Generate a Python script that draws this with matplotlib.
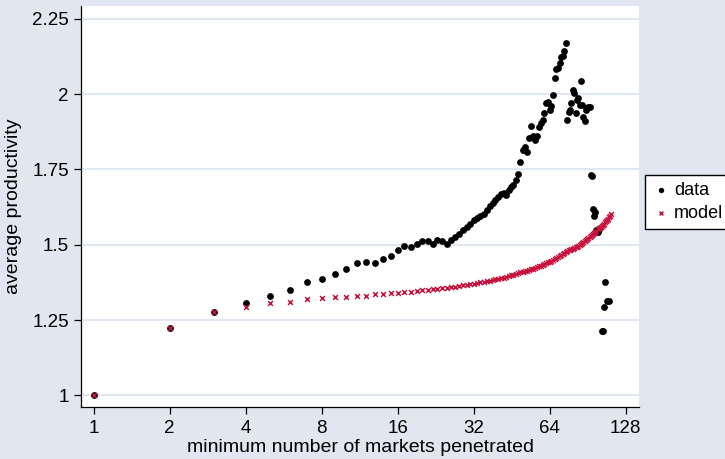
import numpy as np
import matplotlib
matplotlib.use("Agg")
import matplotlib.pyplot as plt

plt.rcParams['font.family'] = ['Liberation Sans', 'DejaVu Sans']

# observed average productivity by minimum number of markets penetrated
data_n = list(range(1, 101)) + [103, 104, 105, 106, 108, 110]
data_val = [1.000, 1.224, 1.276, 1.306, 1.331, 1.351, 1.375, 1.386, 1.403, 1.420,
            1.438, 1.444, 1.438, 1.452, 1.463, 1.483, 1.495, 1.494, 1.503, 1.514,
            1.514, 1.503, 1.515, 1.511, 1.503, 1.517, 1.526, 1.537, 1.548, 1.560,
            1.570, 1.582, 1.589, 1.595, 1.602, 1.614, 1.628, 1.638, 1.650, 1.660,
            1.670, 1.673, 1.665, 1.682, 1.692, 1.700, 1.715, 1.735, 1.776, 1.815,
            1.824, 1.809, 1.854, 1.896, 1.861, 1.848, 1.861, 1.892, 1.904, 1.915,
            1.939, 1.970, 1.975, 1.946, 1.960, 1.998, 2.053, 2.083, 2.086, 2.105,
            2.123, 2.127, 2.145, 2.169, 1.915, 1.942, 1.948, 1.970, 2.014, 2.005,
            1.939, 1.981, 1.987, 1.964, 2.045, 1.964, 1.923, 1.912, 1.948, 1.955,
            1.957, 1.957, 1.732, 1.730, 1.618, 1.596, 1.610, 1.549, 1.544, 1.553,
            1.214, 1.214, 1.294, 1.375, 1.313, 1.313]

# model prediction
model_n = list(range(1, 113))
model_val = [1.000, 1.224, 1.276, 1.294, 1.308, 1.311, 1.320, 1.323, 1.327, 1.328,
             1.331, 1.331, 1.335, 1.336, 1.339, 1.339, 1.342, 1.344, 1.347, 1.350,
             1.351, 1.352, 1.354, 1.355, 1.357, 1.359, 1.361, 1.363, 1.365, 1.367,
             1.369, 1.371, 1.373, 1.375, 1.377, 1.379, 1.381, 1.383, 1.385, 1.387,
             1.389, 1.391, 1.393, 1.395, 1.398, 1.400, 1.403, 1.405, 1.408, 1.410,
             1.412, 1.414, 1.416, 1.418, 1.420, 1.422, 1.425, 1.428, 1.431, 1.434,
             1.437, 1.440, 1.442, 1.444, 1.447, 1.450, 1.453, 1.456, 1.459, 1.462,
             1.466, 1.469, 1.472, 1.475, 1.478, 1.481, 1.483, 1.485, 1.487, 1.489,
             1.492, 1.494, 1.497, 1.500, 1.503, 1.506, 1.510, 1.513, 1.517, 1.520,
             1.524, 1.527, 1.530, 1.534, 1.537, 1.540, 1.543, 1.547, 1.551, 1.554,
             1.556, 1.559, 1.562, 1.566, 1.570, 1.574, 1.578, 1.583, 1.587, 1.592,
             1.596, 1.601]

x_ticks = [1, 2, 4, 8, 16, 32, 64, 128]
y_ticks = [1, 1.25, 1.5, 1.75, 2, 2.25]
y_tick_labels = ['1', '1.25', '1.5', '1.75', '2', '2.25']

bg = '#E1E6F0'
grid_c = '#DCE3EE'
red = '#C8103C'

fig = plt.figure(figsize=(7.25, 4.59), dpi=100, facecolor=bg)
ax = fig.add_axes([0.1121, 0.1126, 0.7693, 0.8743])
ax.set_facecolor('white')

ax.scatter(data_n, data_val, s=24, color='black', marker='o', linewidths=0, zorder=3, label='data')
ax.scatter(model_n, model_val, s=12, color=red, marker='x', linewidths=1.1, zorder=4, label='model')

ax.set_xscale('log', base=2)
ax.set_xlim(2 ** -0.163, 2 ** 7.175)
ax.set_ylim(0.960, 2.293)
ax.set_xticks(x_ticks)
ax.set_xticklabels([str(t) for t in x_ticks])
ax.minorticks_off()
ax.set_yticks(y_ticks)
ax.set_yticklabels(y_tick_labels)

ax.grid(True, axis='y', color=grid_c, linewidth=1.2, zorder=0)
ax.set_axisbelow(True)

for s in ['top', 'right']:
    ax.spines[s].set_visible(False)
for s in ['left', 'bottom']:
    ax.spines[s].set_linewidth(0.9)
    ax.spines[s].set_color('black')

ax.tick_params(axis='both', direction='out', length=5, width=0.9, labelsize=13.5, colors='black', pad=4)

ax.set_xlabel('minimum number of markets penetrated', fontsize=14, labelpad=1.5)
ax.set_ylabel('average productivity', fontsize=14)
ax.yaxis.set_label_coords(-0.106, 0.5)

leg = fig.legend(loc='upper left', bbox_to_anchor=(0.8897, 0.6187), fontsize=13,
                 frameon=True, fancybox=False, edgecolor='black', framealpha=1,
                 borderaxespad=0, handletextpad=0.2, handlelength=1.0,
                 borderpad=0.4, labelspacing=0.3, markerscale=0.8)
leg.get_frame().set_linewidth(1.0)

fig.savefig('out.png', dpi=100, facecolor=bg)
